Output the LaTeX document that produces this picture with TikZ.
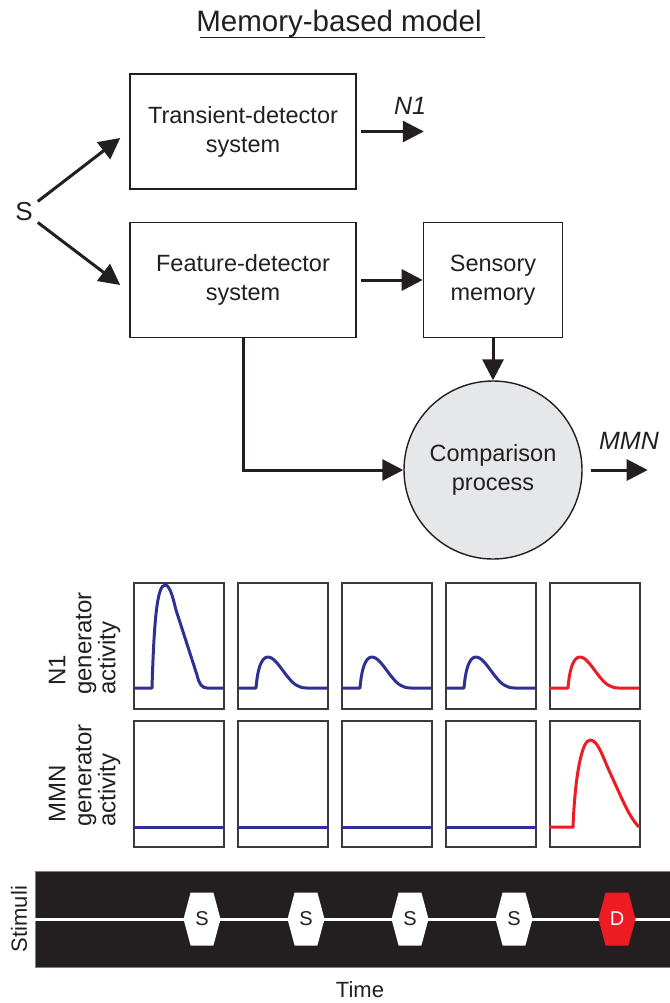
\documentclass[tikz,border=0pt]{standalone}
\usepackage{fontspec}
\setmainfont{Liberation Sans}
\usepackage{tikz}
\usetikzlibrary{arrows.meta,positioning,shapes.symbols}

\definecolor{ink}{HTML}{231F20}
\definecolor{navy}{HTML}{2E3192}
\definecolor{alarm}{HTML}{ED1C24}
\definecolor{cmpgray}{HTML}{E6E7E8}
\definecolor{framegray}{HTML}{3A3A3A}

\newcommand{\boxfont}{\fontsize{23.5}{29}\selectfont}

\begin{document}
\begin{tikzpicture}[x=1pt,y=-1pt,>={Triangle[length=21pt,width=21pt]},
  sys/.style={draw=ink,line width=1.6pt,minimum height=115pt,align=center,font=\boxfont,text=ink},
  arr/.style={->,line width=3pt,draw=ink},
  outlbl/.style={font=\fontsize{25}{25}\selectfont\itshape,text=ink},
  panel/.style={draw=framegray,line width=1.6pt,minimum width=90pt,minimum height=126pt,inner sep=0pt,anchor=north west},
  trace/.style={line width=3pt,line join=round},
  rowlbl/.style={rotate=90,inner sep=0pt,align=left,font=\fontsize{24}{24}\selectfont,text=ink},
  stim/.style={signal,signal to=west and east,signal pointer angle=150,fill=white,minimum width=37pt,minimum height=53pt,inner sep=0pt,font=\fontsize{20}{20}\selectfont}]
\useasboundingbox (0,0) rectangle (669,1003);

% model
\node[anchor=base,font=\fontsize{29.5}{31}\selectfont,text=ink] (title) at (339,32) {Memory-based model};
\draw[ink,line width=1.4pt] ([xshift=7pt,yshift=4pt]title.south west) -- ([yshift=4pt]title.south east);

\node[sys,minimum width=226pt] (trans) at (243,131.5) {Transient-detector\\system};
\node[sys,minimum width=226pt] (feat) at (243,280) {Feature-detector\\system};
\node[sys,minimum width=139pt] (sens) at (493,280) {Sensory\\memory};
\node[circle,draw=ink,fill=cmpgray,line width=1.4pt,minimum size=178pt,align=center,font=\boxfont,text=ink] (cmp) [below=42pt of sens] {Comparison\\process};
\node[font=\fontsize{26}{26}\selectfont,text=ink] (S) at (24,212) {S};

\coordinate[right=67pt of trans.east] (n1end);
\coordinate[right=65pt of cmp.east] (mmnend);
\node[outlbl] (n1out) at (410,106) {N1};
\node[outlbl] (mmnout) at (629,441) {MMN};

\draw[arr,shorten <=2pt] (S) -- ([xshift=-9pt,yshift=-6.5pt]trans.west);
\draw[arr,shorten <=2pt] (S) -- ([xshift=-9pt,yshift=-5pt]feat.west);
\draw[arr,shorten <=4pt] (trans.east) -- (n1end);
\draw[arr,shorten <=4pt] (feat) -- (sens);
\draw[arr] (sens) -- (cmp);
\draw[arr] (feat.south) |- (cmp.west);
\draw[arr,shorten <=8pt] (cmp.east) -- (mmnend);

% generator activity
\node[rowlbl,anchor=west] (n1lab) at (57,686) {N1};
\node[rowlbl,anchor=west] (n1gen) at (98,695) {generator\\activity};
\node[rowlbl,anchor=west] (mmnlab) at (57,823) {MMN};
\node[rowlbl,anchor=west] (mmngen) at (98,827) {generator\\activity};

\foreach \i in {1,...,5} {
  \node[panel] (n1p\i) at ({133+104*(\i-1)},582) {};
  \node[panel] (mmnp\i) at ({133+104*(\i-1)},720) {};
}
\begin{scope}[shift={(n1p1.north west)}]
  \draw[trace,navy] (0,106) -- (19,106) .. controls (21,40) and (24,3) .. (32,3) .. controls (37,3) and (40,16) .. (43,28) -- (64,93) .. controls (66,102) and (69,106) .. (74,106) -- (90,106);
\end{scope}
\foreach \i/\c in {2/navy,3/navy,4/navy,5/alarm} {
  \begin{scope}[shift={(n1p\i.north west)}]
    \draw[trace,\c] (0,106) -- (19,106) .. controls (20.5,88) and (24,75) .. (31,75) .. controls (37,75) and (43,85) .. (50,94) .. controls (57,103) and (62,106) .. (70,106) -- (90,106);
  \end{scope}
}
\foreach \i in {1,...,4}
  \draw[trace,navy] ([yshift=-107pt]mmnp\i.north west) -- ([yshift=-107pt]mmnp\i.north east);
\begin{scope}[shift={(mmnp5.north west)}]
  \draw[trace,alarm] (0,107) -- (24,107) .. controls (26,55) and (33,20) .. (41,20) .. controls (48,20) and (53,34) .. (58,46) -- (73,79) .. controls (79,92) and (84,101) .. (90,107);
\end{scope}

% stimuli
\node[fill=ink,draw=gray,line width=0.8pt,anchor=north west,minimum width=640pt,minimum height=96pt,inner sep=0pt] (bar) at (35,871) {};
\draw[white,line width=3pt] (bar.west) -- (bar.east);
\foreach \x [count=\k] in {202,306,410,514}
  \node[stim,text=ink] (s\k) at (\x,919) {S};
\node[stim,fill=alarm,text=white] (dev) at (617,919) {D};
\node[rotate=90,font=\fontsize{22}{22}\selectfont,text=ink] (stimlbl) at (19,919) {Stimuli};
\node[font=\fontsize{22}{22}\selectfont,text=ink] (time) at (360,990) {Time};
\end{tikzpicture}
\end{document}
